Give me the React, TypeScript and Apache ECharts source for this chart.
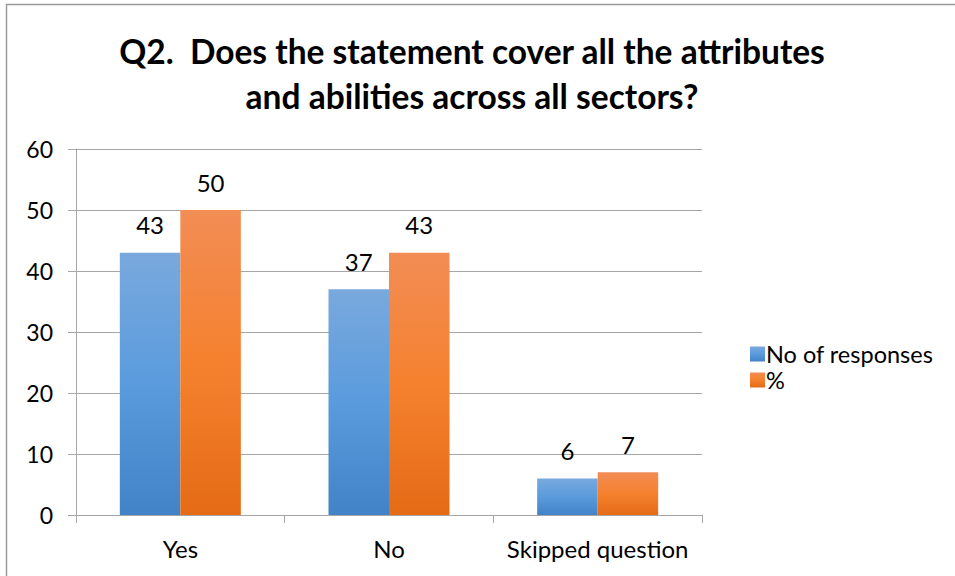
import React, { useEffect, useRef } from "react";
import * as echarts from "echarts";

const categories = ["Yes", "No", "Skipped question"];
const responses = [43, 37, 6];
const percents = [50, 43, 7];
const seriesNames = ["No of responses", "%"];
const titleText = "Q2.  Does the statement cover all the attributes\nand abilities across all sectors?";

const FONT = "Lato, 'Open Sans', sans-serif";

export default function App() {
  const ref = useRef<HTMLDivElement>(null);
  useEffect(() => {
    if (!ref.current) return;
    const chart = echarts.init(ref.current, undefined, { renderer: "svg" });
    const blue = new echarts.graphic.LinearGradient(0, 0, 0, 1, [
      { offset: 0, color: "#79a9dd" },
      { offset: 0.5, color: "#5a9bdd" },
      { offset: 1, color: "#4283c8" },
    ]);
    const orange = new echarts.graphic.LinearGradient(0, 0, 0, 1, [
      { offset: 0, color: "#f28d55" },
      { offset: 0.5, color: "#f5812e" },
      { offset: 1, color: "#e56b16" },
    ]);
    const labelStyle = {
      show: true,
      position: "top" as const,
      distance: 16,
      fontSize: 24,
      color: "#000",
      fontFamily: FONT,
    };
    chart.setOption({
      animation: false,
      title: {
        text: titleText,
        left: 467,
        top: 23,
        textAlign: "center",
        textStyle: {
          fontFamily: FONT,
          fontSize: 33.5,
          fontWeight: "bold",
          color: "#000",
          lineHeight: 45,
        },
      },
      graphic: [
        {
          type: "rect",
          shape: { x: 6.5, y: 4.5, width: 1000, height: 1000 },
          style: { fill: "none", stroke: "#9a9a9a", lineWidth: 1.5 },
          silent: true,
        },
      ],
      legend: {
        orient: "vertical",
        left: 745,
        top: 337,
        itemWidth: 15,
        itemHeight: 15,
        itemGap: 2,
        icon: "rect",
        textStyle: {
          fontFamily: FONT,
          fontSize: 23.5,
          lineHeight: 23,
          color: "#000",
          padding: [0, 0, 0, -4],
        },
        data: seriesNames,
      },
      grid: { left: 76, right: 253, top: 149, bottom: 61, containLabel: false },
      xAxis: {
        type: "category",
        data: categories,
        axisLine: { lineStyle: { color: "#a6a6a6", width: 1 } },
        axisTick: { show: true, length: 8, lineStyle: { color: "#a6a6a6" } },
        axisLabel: { interval: 0, fontFamily: FONT, fontSize: 24, color: "#000", margin: 21 },
      },
      yAxis: {
        type: "value",
        min: 0,
        max: 60,
        interval: 10,
        axisLine: { show: true, lineStyle: { color: "#a6a6a6", width: 1 } },
        axisTick: { show: true, length: 8, lineStyle: { color: "#a6a6a6" } },
        splitLine: { lineStyle: { color: "#a6a6a6", width: 1 } },
        axisLabel: { fontFamily: FONT, fontSize: 23, color: "#000", margin: 23 },
      },
      series: [
        {
          name: seriesNames[0],
          type: "bar",
          data: responses,
          barGap: "0%",
          barCategoryGap: "42%",
          itemStyle: { color: blue },
          label: labelStyle,
        },
        {
          name: seriesNames[1],
          type: "bar",
          data: percents,
          itemStyle: { color: orange },
          label: labelStyle,
        },
      ],
    });
    return () => chart.dispose();
  }, []);
  return (
    <div
      ref={ref}
      style={{ position: "fixed", left: 0, top: 0, width: 955, height: 576, background: "#fff" }}
    />
  );
}
